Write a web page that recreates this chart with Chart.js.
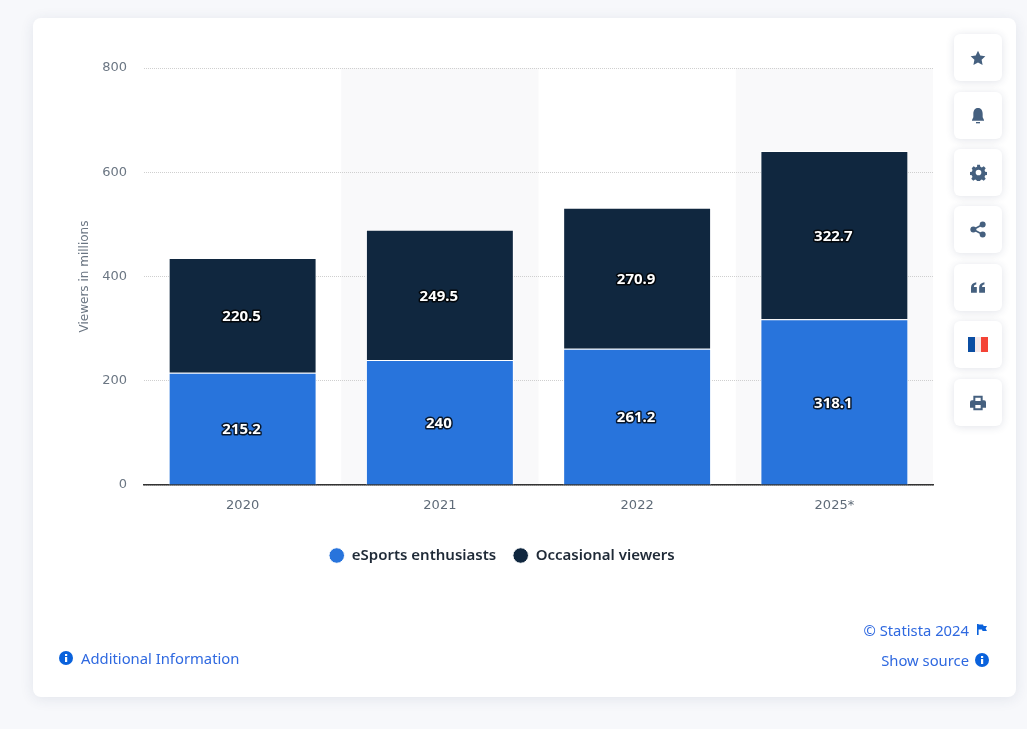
<!DOCTYPE html>
<html>
<head>
<meta charset="utf-8">
<title>Viewers in millions</title>
<script src="https://cdn.jsdelivr.net/npm/chart.js@4"></script>
<style>
  html, body { margin: 0; padding: 0; width: 1027px; height: 729px; overflow: hidden; background: #f7f8fb; font-family: "Noto Sans", sans-serif; }
  #card { position: absolute; left: 33px; top: 18px; width: 983px; height: 679px; background: #fff; border-radius: 8px; box-shadow: 0 2px 14px rgba(40, 60, 100, .10); }
  #wrap { position: absolute; left: 0; top: 0; width: 1027px; height: 729px; }
  .btn { position: absolute; left: 954px; width: 48px; height: 47px; background: #fff; border-radius: 6px; box-shadow: 0 1px 8px rgba(40, 60, 100, .14); display: flex; align-items: center; justify-content: center; }
  .btn svg { display: block; }
  .link { position: absolute; font-size: 14.8px; color: #2f69e0; white-space: nowrap; line-height: 20px; }
  .ic { position: absolute; }
</style>
</head>
<body>
<div id="card"></div>
<div id="wrap"><canvas id="viewersChart" width="1027" height="729"></canvas></div>

<div class="btn" style="top:34px"><svg width="16" height="16" viewBox="0 0 24 24"><path fill="#45607f" d="M12 1l3.4 7.2 7.6 1-5.6 5.4 1.5 7.8L12 18.6l-6.9 3.8 1.5-7.8L1 9.2l7.6-1z"/></svg></div>
<div class="btn" style="top:92px"><svg width="16" height="18" viewBox="0 0 24 26"><path fill="#45607f" d="M12 1c-5 0-7 4-7 9v5l-2 4v1h18v-1l-2-4v-5c0-5-2-9-7-9z"/><rect x="9" y="22" width="6" height="2" fill="#45607f"/></svg></div>
<div class="btn" style="top:149px"><svg width="17" height="17" viewBox="0 0 24 24"><path fill="#45607f" fill-rule="evenodd" d="M10 1h4l.6 3 2.2.9 2.6-1.7 2.8 2.8-1.7 2.6.9 2.2 3 .6v4l-3 .6-.9 2.2 1.7 2.6-2.8 2.8-2.6-1.7-2.2.9-.6 3h-4l-.6-3-2.2-.9-2.6 1.7-2.8-2.8 1.7-2.6-.9-2.2-3-.6v-4l3-.6.9-2.2L2.4 6l2.8-2.8 2.6 1.7 2.2-.9zM12 8a4 4 0 1 0 0 8 4 4 0 0 0 0-8z"/></svg></div>
<div class="btn" style="top:206px"><svg width="16" height="17" viewBox="0 0 24 24"><g fill="#45607f"><circle cx="19" cy="4.5" r="4.5"/><circle cx="5" cy="12" r="4.5"/><circle cx="19" cy="19.5" r="4.5"/></g><path stroke="#45607f" stroke-width="2.5" d="M19 4.5L5 12l14 7.5" fill="none"/></svg></div>
<div class="btn" style="top:264px"><svg width="14" height="11" viewBox="0 0 24 18"><path fill="#45607f" d="M0 18V9c0-5 3-8 9-9v4c-3 .6-4 2-4 4h5v10zM14 18V9c0-5 3-8 9-9v4c-3 .6-4 2-4 4h5v10z"/></svg></div>
<div class="btn" style="top:321px"><svg width="20" height="15" viewBox="0 0 20 15"><rect width="7" height="15" fill="#0b4ea2"/><rect x="7" width="6" height="15" fill="#f6e9e9"/><rect x="13" width="7" height="15" fill="#f44336"/></svg></div>
<div class="btn" style="top:379px"><svg width="16" height="16" viewBox="0 0 24 24"><path fill="#45607f" fill-rule="evenodd" d="M5 1h14v7h2a3 3 0 0 1 3 3v8h-5v4H5v-4H0v-8a3 3 0 0 1 3-3h2zM8 4v5h8V4zM8 15v5h8v-5z"/></svg></div>

<svg class="ic" style="left:59px;top:651px" width="14" height="14" viewBox="0 0 14 14"><circle cx="7" cy="7" r="7" fill="#0a62dc"/><rect x="6" y="6" width="2.2" height="5" fill="#fff"/><rect x="6" y="3" width="2.2" height="2" fill="#fff"/></svg>
<div class="link" style="left:81px;top:648px">Additional Information</div>
<div class="link" style="right:58px;top:620px">© Statista 2024</div>
<svg class="ic" style="left:977px;top:624px" width="10" height="11" viewBox="0 0 10 11"><path fill="#0a62dc" d="M0 0h1.6v11H0zM1.6 .5H6l.6 1.5H10L8.6 4.5 10 7H5.5L5 5.5H1.6z"/></svg>
<div class="link" style="right:58px;top:650px">Show source</div>
<svg class="ic" style="left:975px;top:653px" width="14" height="14" viewBox="0 0 14 14"><circle cx="7" cy="7" r="7" fill="#0a62dc"/><rect x="6" y="6" width="2.2" height="5" fill="#fff"/><rect x="6" y="3" width="2.2" height="2" fill="#fff"/></svg>

<script>
const years = ['2020', '2021', '2022', '2025*'];
const enthusiasts = [215.2, 240, 261.2, 318.1];
const occasional = [220.5, 249.5, 270.9, 322.7];
const yTicks = [0, 200, 400, 600, 800];

// grey bands behind every second year
const bands = {
    id: 'bands',
    beforeDatasetsDraw(chart) {
        const { ctx, chartArea, scales } = chart;
        const step = scales.x.width / years.length;
        ctx.save();
        ctx.globalCompositeOperation = 'destination-over';
        ctx.fillStyle = '#f9f9fa';
        years.forEach((y, i) => {
            if (i % 2 === 1) {
                ctx.fillRect(scales.x.getPixelForValue(i) - step / 2, chartArea.top, step, chartArea.height);
            }
        });
        ctx.restore();
    }
};

// value labels in the middle of each bar
const barLabels = {
    id: 'barLabels',
    afterDatasetsDraw(chart) {
        const { ctx } = chart;
        ctx.save();
        ctx.font = 'bold 15px "Noto Sans"';
        ctx.textAlign = 'center';
        ctx.textBaseline = 'middle';
        chart.data.datasets.forEach((ds, d) => {
            chart.getDatasetMeta(d).data.forEach((bar, i) => {
                const p = bar.getCenterPoint();
                ctx.lineJoin = 'round';
                ctx.lineWidth = 3;
                ctx.strokeStyle = 'rgba(0,0,0,.8)';
                ctx.strokeText(String(ds.data[i]), p.x - 1, p.y + 1.5);
                ctx.fillStyle = '#fff';
                ctx.fillText(String(ds.data[i]), p.x - 1, p.y + 1.5);
            });
        });
        ctx.restore();
    }
};

new Chart(document.getElementById('viewersChart').getContext('2d'), {
    type: 'bar',
    data: {
        labels: years,
        datasets: [
            { label: 'eSports enthusiasts', data: enthusiasts, backgroundColor: '#2874dc', borderColor: '#fff', borderWidth: 1, barPercentage: 0.75, categoryPercentage: 1 },
            { label: 'Occasional viewers', data: occasional, backgroundColor: '#10273f', borderColor: '#fff', borderWidth: 1, barPercentage: 0.75, categoryPercentage: 1 }
        ]
    },
    plugins: [bands, barLabels],
    options: {
        responsive: false,
        animation: false,
        layout: { padding: { left: 71, right: 94, top: 68, bottom: 156 } },
        plugins: {
            tooltip: { enabled: false },
            legend: {
                position: 'bottom',
                labels: {
                    usePointStyle: true,
                    pointStyle: 'circle',
                    boxHeight: 11,
                    boxWidth: 15,
                    padding: 17,
                    color: '#1f2a37',
                    font: { family: '"Noto Sans"', size: 15, weight: '600' }
                }
            }
        },
        scales: {
            x: {
                stacked: true,
                afterFit(scale) { scale.height = 46; },
                grid: { display: false },
                border: { color: '#333', width: 1.5 },
                ticks: { color: '#5f6b78', padding: 5, font: { family: '"DejaVu Sans"', size: 13 } }
            },
            y: {
                stacked: true,
                min: 0,
                max: 800,
                afterFit(scale) { scale.width = 73; },
                afterBuildTicks(scale) { scale.ticks = yTicks.map(v => ({ value: v })); },
                grid: { color: '#cfcfcf', lineWidth: 1, drawTicks: false },
                border: { display: false, dash: [1, 1] },
                ticks: { color: '#6b7683', padding: 17, font: { family: '"DejaVu Sans"', size: 13 } },
                title: {
                    display: true,
                    text: 'Viewers in millions',
                    color: '#6b7683',
                    padding: { top: 7, bottom: 0 },
                    font: { family: '"DejaVu Sans"', size: 12 }
                }
            }
        }
    }
});
</script>
</body>
</html>
